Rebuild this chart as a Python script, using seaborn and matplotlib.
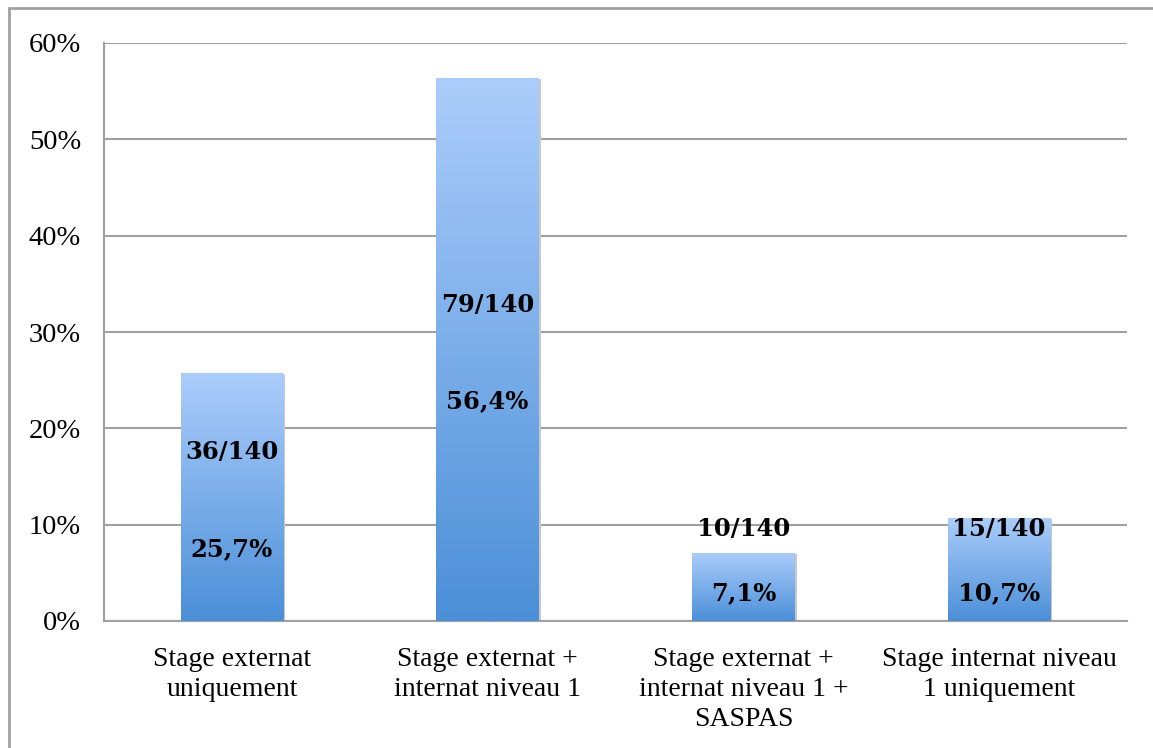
import numpy as np
import pandas as pd
import matplotlib
matplotlib.use("Agg")
import matplotlib.pyplot as plt
import seaborn as sns
from matplotlib.colors import LinearSegmentedColormap
from matplotlib.lines import Line2D

categories = ["Stage externat\nuniquement",
              "Stage externat +\ninternat niveau 1",
              "Stage externat +\ninternat niveau 1 +\nSASPAS",
              "Stage internat niveau\n1 uniquement"]
values = [25.7, 56.4, 7.1, 10.7]
counts = ["36/140", "79/140", "10/140", "15/140"]
pct_labels = ["25,7%", "56,4%", "7,1%", "10,7%"]
yticks = [0, 10, 20, 30, 40, 50, 60]
ytick_labels = ["0%", "10%", "20%", "30%", "40%", "50%", "60%"]

sns.set_theme(style="white")
plt.rcParams["font.family"] = ["Liberation Serif", "DejaVu Serif"]

fig = plt.figure(figsize=(11.53, 7.48), dpi=100)
ax = fig.add_axes([104/1153, 1-621/748, (1127-104)/1153, (621-43)/748])

df = pd.DataFrame({"cat": categories, "val": values})
sns.barplot(data=df, x="cat", y="val", ax=ax, width=0.40, color="#6aa6e8",
            edgecolor="none", zorder=3)

ax.set_xlim(-0.5, 3.5)
ax.set_ylim(0, 60)
ax.set_yticks(yticks)
ax.set_yticklabels(ytick_labels, fontsize=20.5, color="black")
ax.set_xlabel("")
ax.set_ylabel("")
ax.tick_params(axis="x", which="major", length=0, labelsize=20, pad=19,
               colors="black")
ax.set_xticks(np.arange(-0.5, 4, 1), minor=True)
ax.tick_params(axis="x", which="minor", length=7, width=1.5, color="#a0a0a0",
               direction="out")
ax.tick_params(axis="y", which="major", length=7, width=1.5, color="#a0a0a0",
               direction="out", pad=9.5)
for lab in ax.get_xticklabels():
    lab.set_linespacing(1.25)

ax.yaxis.grid(True, color="#a0a0a0", linewidth=1.5, zorder=0)
ax.set_axisbelow(True)
for s in ["top", "right"]:
    ax.spines[s].set_visible(False)
for s in ["left", "bottom"]:
    ax.spines[s].set_color("#a0a0a0")
    ax.spines[s].set_linewidth(1.5)

# gradient fill
cmap = LinearSegmentedColormap.from_list("g", ["#4b8fd8", "#abcdfb"])
grad = np.linspace(0, 1, 256).reshape(-1, 1)
for p in ax.patches:
    x0, w, h = p.get_x(), p.get_width(), p.get_height()
    sh = plt.Rectangle((x0 + 0.008, 0), w, h - 0.15, facecolor="#c8c8c8",
                       edgecolor="none", zorder=2.5)
    ax.add_patch(sh)
    p.set_facecolor("none")
    im = ax.imshow(grad, extent=[x0, x0 + w, 0, h], origin="lower",
                   cmap=cmap, aspect="auto", zorder=3)
    im.set_clip_path(p)
ax.set_xlim(-0.5, 3.5)
ax.set_ylim(0, 60)

# labels
for i, v in enumerate(values):
    py = max(v / 2 - 5.35, 2.9)
    fy = py + 10.0 if v > 20 else 9.55
    for y, t in ((py, pct_labels[i]), (fy, counts[i])):
        ax.text(i, y, t, ha="center", va="center", fontsize=17.5,
                fontweight="bold", color="black", zorder=5,
                family=["DejaVu Serif"])

# outer frame (left and top only visible)
fig.add_artist(Line2D([9/1153, 9/1153], [0, 1-8/748], transform=fig.transFigure,
                      color="#a0a0a0", linewidth=2))
fig.add_artist(Line2D([9/1153, 1], [1-8/748, 1-8/748], transform=fig.transFigure,
                      color="#a0a0a0", linewidth=2))

fig.savefig("out.png", dpi=100)
